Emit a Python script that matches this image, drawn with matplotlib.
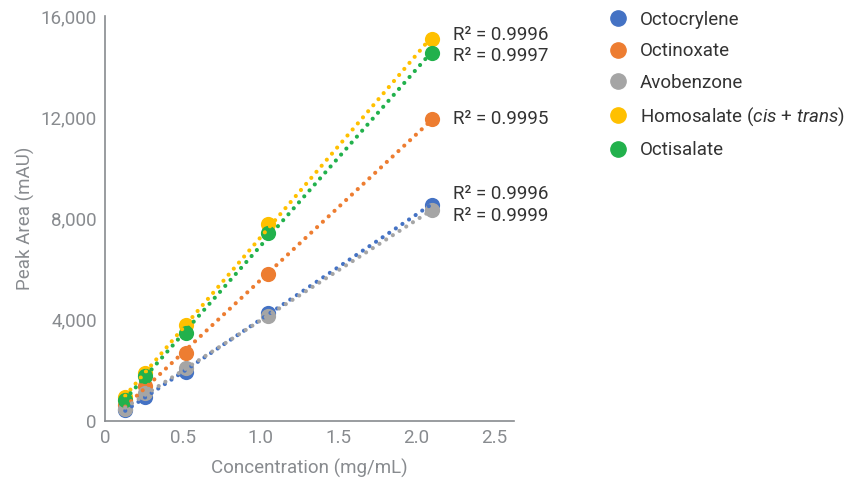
import numpy as np
import matplotlib.pyplot as plt
from matplotlib.lines import Line2D

plt.rcParams['font.family'] = ['Roboto', 'DejaVu Sans']
plt.rcParams['mathtext.fontset'] = 'custom'
plt.rcParams['mathtext.it'] = 'Roboto:italic'
plt.rcParams['mathtext.rm'] = 'Roboto'

conc = [0.13, 0.26, 0.52, 1.05, 2.1]
names = ['Octocrylene', 'Octinoxate', 'Avobenzone',
         'Homosalate ($\\it{cis}$ + $\\it{trans}$)', 'Octisalate']
colors = ['#4472C4', '#ED7D31', '#A5A5A5', '#FFC000', '#22B14C']
octocrylene = [430, 950, 1940, 4270, 8550]
octinoxate = [630, 1380, 2690, 5810, 11930]
avobenzone = [470, 1100, 2090, 4150, 8330]
homosalate = [950, 1900, 3790, 7780, 15100]
octisalate = [830, 1780, 3480, 7430, 14520]
series = [octocrylene, octinoxate, avobenzone, homosalate, octisalate]
r2 = ['0.9996', '0.9995', '0.9999', '0.9996', '0.9997']
# label heights (data units) to keep the R² texts apart
r2_y = [8950, 11930, 8100, 15250, 14420]

fs = 13.5
gray = '#888b8f'

fig = plt.figure(figsize=(8.56, 4.82), dpi=100)
ax = fig.add_axes([0.1227, 0.1266, 0.4778, 0.8402])

x = np.array(conc)
for vals, c in zip(series, colors):
    ax.scatter(conc, vals, s=120, color=c, zorder=3, linewidths=0)
    m, b = np.polyfit(x, vals, 1)
    ax.plot(x[[0, -1]], m * x[[0, -1]] + b, color=c, lw=3,
            linestyle=(0, (0.01, 1.9)), dash_capstyle='round', zorder=4)

for txt, yy in zip(r2, r2_y):
    ax.text(2.24, yy, f'R² = {txt}', fontsize=fs, color='#333333', va='center')

ax.set_xlim(0, 2.63)
ax.set_ylim(0, 16000)
ax.set_xticks([0, 0.5, 1.0, 1.5, 2.0, 2.5])
ax.set_xticklabels(['0', '0.5', '1.0', '1.5', '2.0', '2.5'])
ax.set_yticks([0, 4000, 8000, 12000, 16000])
ax.set_yticklabels(['0', '4,000', '8,000', '12,000', '16,000'])
ax.tick_params(length=0, labelsize=fs, labelcolor=gray, pad=6)
for s in ['top', 'right']:
    ax.spines[s].set_visible(False)
for s in ['left', 'bottom']:
    ax.spines[s].set_color(gray)
    ax.spines[s].set_linewidth(1.2)
ax.set_xlabel('Concentration (mg/mL)', fontsize=fs, color=gray, labelpad=8)
ax.set_ylabel('Peak Area (mAU)', fontsize=fs, color=gray, labelpad=4)

handles = [Line2D([], [], marker='o', ls='', color=c, markersize=11) for c in colors]
fig.legend(handles, names, loc='upper left', bbox_to_anchor=(0.691, 1.013),
           frameon=False, fontsize=fs, labelspacing=0.72, handlelength=1.0,
           handletextpad=0.67, labelcolor='#333333')

fig.savefig('out.png', dpi=100)
